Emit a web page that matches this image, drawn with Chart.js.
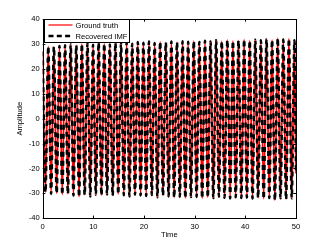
<!DOCTYPE html>
<html>
<head>
<meta charset="utf-8">
<script src="https://cdn.jsdelivr.net/npm/chart.js@4.4.0/dist/chart.umd.min.js"></script>
<style>
html, body { margin: 0; padding: 0; background: #fff; }
</style>
</head>
<body>
<canvas id="imf" width="327" height="246"></canvas>
<script>
// extrema of the oscillation (time, amplitude)
const peakT = [0, 1.10, 2.21, 3.31, 4.42, 5.52, 6.63, 7.73, 8.84, 9.94, 11.04, 12.15, 13.25, 14.36, 15.46, 16.57, 17.67, 18.77, 19.88, 20.98, 22.09, 23.19, 24.30, 25.40, 26.51, 27.61, 28.71, 29.82, 30.92, 32.03, 33.13, 34.24, 35.34, 36.45, 37.55, 38.65, 39.76, 40.86, 41.97, 43.07, 44.18, 45.28, 46.39, 47.49, 48.60, 49.70];
const peakV = [27, 29, 28.8, 29.2, 29.5, 29.8, 29.4, 30, 30.3, 29.7, 30.5, 30.1, 29.8, 30.4, 30.2, 30.6, 30.1, 30.8, 30.5, 31, 30.4, 30.9, 30.6, 31, 30.7, 31.1, 30.9, 31.2, 30.8, 31.3, 31, 31.5, 31.1, 31.6, 31.2, 31.4, 31.8, 31.3, 31.7, 31.5, 32, 31.6, 32.3, 31.8, 32.1, 31.5];
const troughT = [0.55, 1.66, 2.76, 3.87, 4.97, 6.07, 7.18, 8.28, 9.39, 10.49, 11.60, 12.70, 13.81, 14.91, 16.01, 17.12, 18.22, 19.33, 20.43, 21.54, 22.64, 23.74, 24.85, 25.95, 27.06, 28.16, 29.27, 30.37, 31.48, 32.58, 33.68, 34.79, 35.89, 37.00, 38.10, 39.21, 40.31, 41.42, 42.52, 43.62, 44.73, 45.83, 46.94, 48.04, 49.15];
const troughV = [-29.5, -30.2, -30, -30.5, -30.2, -30.8, -31.4, -30.6, -31.2, -30.5, -30.8, -30.4, -30.9, -30.3, -30.7, -31.2, -30.5, -30.8, -31, -30.6, -31.6, -30.9, -31.2, -31.7, -31.3, -31.9, -31.5, -31.4, -32, -31.6, -31.9, -31.3, -31.8, -32, -31.6, -31.9, -31.7, -32.1, -31.8, -32.2, -31.9, -32.8, -32, -32.4, -32];
const lastT = 50, lastV = -22;

const xTicks = [0, 10, 20, 30, 40, 50];
const yTicks = [-40, -30, -20, -10, 0, 10, 20, 30, 40];
const seriesNames = ['Ground truth', 'Recovered IMF'];

const FONT = '"Liberation Sans", Arial, sans-serif';
const RED = '#ff0000';
Chart.defaults.font.family = FONT;
Chart.defaults.font.size = 7.6;
Chart.defaults.color = '#000';

// peaks and troughs alternate along the curve
function buildPath() {
    const pts = [];
    for (let i = 0; i < peakT.length; i++) {
        pts.push({ x: peakT[i], y: peakV[i] });
        if (i < troughT.length) pts.push({ x: troughT[i], y: troughV[i] });
    }
    pts.push({ x: lastT, y: lastV });
    return pts;
}

// box, inward ticks on all sides and the legend, matlab style
const matlabFrame = {
    id: 'matlabFrame',
    afterDatasetsDraw(chart) {
        const ctx = chart.ctx;
        const a = chart.chartArea;
        const sx = chart.scales.x, sy = chart.scales.y;
        ctx.save();
        ctx.strokeStyle = '#000';
        ctx.lineWidth = 1;
        ctx.beginPath();
        xTicks.forEach(v => {
            const px = Math.round(sx.getPixelForValue(v)) + 0.5;
            ctx.moveTo(px, a.bottom); ctx.lineTo(px, a.bottom - 2.7);
            ctx.moveTo(px, a.top); ctx.lineTo(px, a.top + 2.7);
        });
        yTicks.forEach(v => {
            const py = Math.round(sy.getPixelForValue(v)) + 0.5;
            ctx.moveTo(a.left, py); ctx.lineTo(a.left + 2.7, py);
            ctx.moveTo(a.right, py); ctx.lineTo(a.right - 2.7, py);
        });
        ctx.stroke();
        ctx.strokeRect(Math.round(a.left) + 0.5, Math.round(a.top) + 0.5, Math.round(a.right - a.left), Math.round(a.bottom - a.top));

        // legend
        const lx = Math.round(a.left) + 1.5, ly = Math.round(a.top) + 0.5;
        const lw = 85, lh = 23;
        ctx.fillStyle = '#fff';
        ctx.fillRect(lx, ly, lw, lh);
        ctx.strokeRect(lx, ly, lw, lh);

        ctx.font = '7.6px ' + FONT;
        ctx.textBaseline = 'middle';
        ctx.fillStyle = '#000';

        let y = ly + 5.5;
        ctx.beginPath();
        ctx.strokeStyle = RED;
        ctx.lineWidth = 1.2;
        ctx.moveTo(lx + 4, y); ctx.lineTo(lx + 28, y);
        ctx.stroke();
        ctx.fillText(seriesNames[0], lx + 31, y + 0.5);

        y = ly + 16.5;
        ctx.beginPath();
        ctx.strokeStyle = '#000';
        ctx.lineWidth = 2.5;
        ctx.setLineDash([5, 3.3]);
        ctx.moveTo(lx + 4, y); ctx.lineTo(lx + 28, y);
        ctx.stroke();
        ctx.setLineDash([]);
        ctx.fillText(seriesNames[1], lx + 31, y + 0.5);
        ctx.restore();
    }
};

new Chart(document.getElementById('imf'), {
    type: 'line',
    data: {
        datasets: [{
            label: seriesNames[0],
            data: buildPath(),
            borderColor: RED,
            borderWidth: 1.7,
            pointRadius: 0,
            cubicInterpolationMode: 'monotone',
            order: 1
        }, {
            label: seriesNames[1],
            data: buildPath(),
            borderColor: '#000000',
            borderWidth: 2.5,
            borderDash: [5, 4],
            pointRadius: 0,
            cubicInterpolationMode: 'monotone',
            order: 0
        }]
    },
    options: {
        responsive: false,
        animation: false,
        layout: { padding: { top: 19, right: 31, left: 0, bottom: 0 } },
        plugins: { legend: { display: false }, tooltip: { enabled: false } },
        scales: {
            x: {
                type: 'linear', min: 0, max: 50,
                afterBuildTicks: s => { s.ticks = xTicks.map(v => ({ value: v })); },
                afterFit: s => { s.height = 27.7; },
                grid: { display: false, drawTicks: false },
                border: { display: false },
                ticks: { padding: 4.5, maxRotation: 0 },
                title: { display: true, text: 'Time', padding: { top: 0, bottom: 6.2 } }
            },
            y: {
                type: 'linear', min: -40, max: 40,
                afterBuildTicks: s => { s.ticks = yTicks.map(v => ({ value: v })); },
                afterFit: s => { s.width = 42.7; },
                grid: { display: false, drawTicks: false },
                border: { display: false },
                ticks: { padding: 3 },
                title: { display: true, text: 'Amplitude', padding: { top: 15, bottom: 0 } }
            }
        }
    },
    plugins: [matlabFrame]
});
</script>
</body>
</html>
